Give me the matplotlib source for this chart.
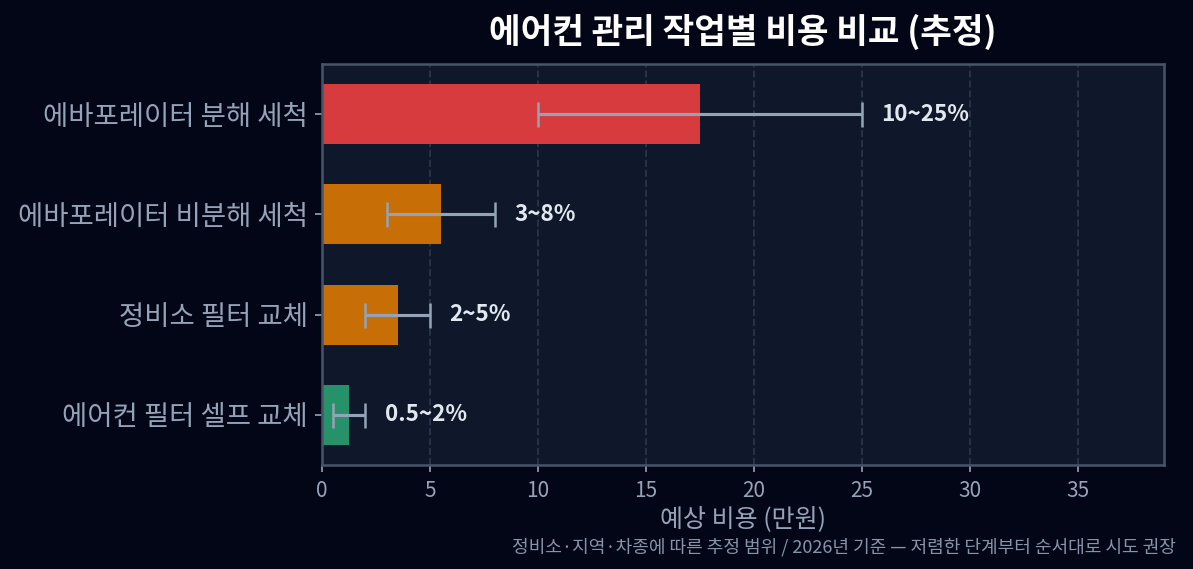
import matplotlib
matplotlib.use("Agg")
import matplotlib.pyplot as plt

plt.rcParams['font.family'] = ['Noto Sans CJK KR', 'DejaVu Sans']

tasks = ["에바포레이터 분해 세척", "에바포레이터 비분해 세척", "정비소 필터 교체", "에어컨 필터 셀프 교체"]
low = [10, 3, 2, 0.5]
high = [25, 8, 5, 2]
mid = [17.5, 5.5, 3.5, 1.25]
labels = ["10~25%", "3~8%", "2~5%", "0.5~2%"]
colors = ["#d73b3e", "#c86e07", "#c86e07", "#27916a"]

fig = plt.figure(figsize=(1193 / 150, 569 / 150), dpi=150, facecolor="#030617")
ax = fig.add_axes([0.27, 0.1828, 0.7057, 0.7047])
ax.set_facecolor("#0f172a")

y = list(range(len(tasks)))
ax.barh(y, mid, height=0.6, color=colors, zorder=2)
xerr = [[m - l for m, l in zip(mid, low)], [h - m for h, m in zip(high, mid)]]
ax.errorbar(mid, y, xerr=xerr, fmt="none", ecolor="#94a3b8", elinewidth=1.5,
            capsize=6, capthick=1.2, zorder=3)
for yi, h, t in zip(y, high, labels):
    ax.text(h + 0.9, yi, t, va="center", ha="left", color="#e2e8f0",
            fontsize=10.8, fontweight="bold")

ax.set_yticks(y)
ax.set_yticklabels(tasks)
ax.set_ylim(3.5, -0.5)
ax.set_xlim(0, 39)
ax.set_xticks(range(0, 40, 5))
ax.tick_params(axis="y", colors="#94a3b8", labelsize=13.2, labelcolor="#94a3b8")
ax.tick_params(axis="x", colors="#94a3b8", labelsize=10, labelcolor="#94a3b8")
ax.grid(axis="x", linestyle="--", color="#2a3448", linewidth=0.9, zorder=0)
ax.set_axisbelow(True)
for s in ax.spines.values():
    s.set_color("#475569")
    s.set_linewidth(1.2)

ax.set_xlabel("예상 비용 (만원)", color="#94a3b8", fontsize=12, labelpad=2)
ax.set_title("에어컨 관리 작업별 비용 비교 (추정)", color="white", fontsize=16.5,
             fontweight="bold", pad=10)
fig.text(0.986, 0.022, "정비소·지역·차종에 따른 추정 범위 / 2026년 기준 — 저렴한 단계부터 순서대로 시도 권장",
         ha="right", va="bottom", color="#8794a8", fontsize=8.7)

fig.savefig("out.png", dpi=150, facecolor=fig.get_facecolor())
